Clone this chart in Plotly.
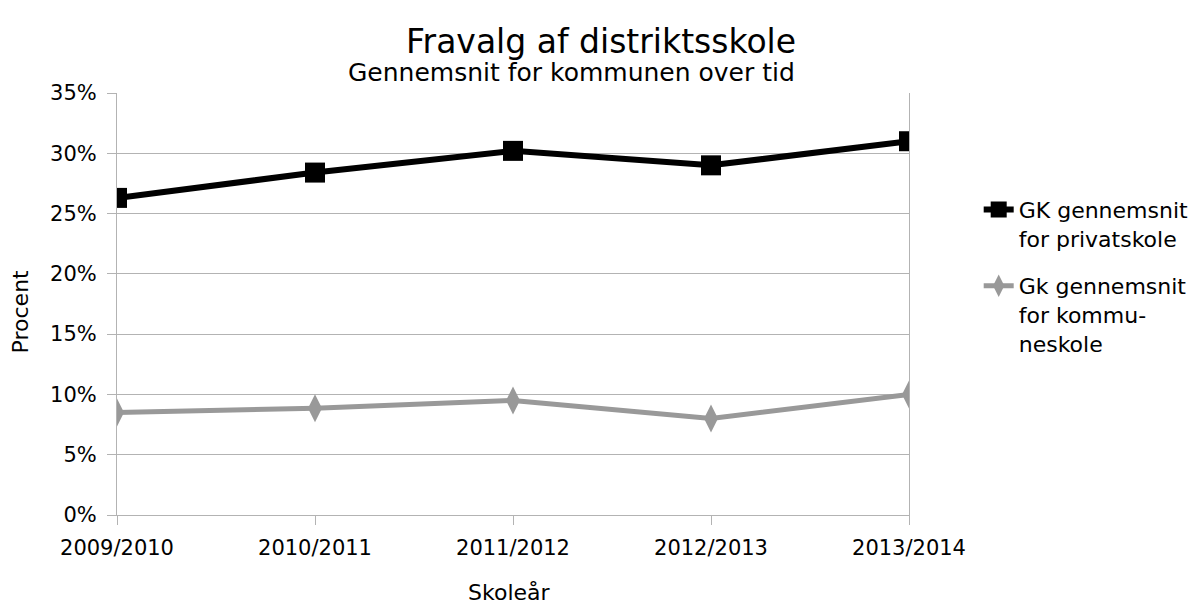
import plotly.graph_objects as go

years = ["2009/2010", "2010/2011", "2011/2012", "2012/2013", "2013/2014"]
privat = [0.263, 0.284, 0.302, 0.290, 0.310]
kommune = [0.085, 0.0885, 0.095, 0.080, 0.100]
yticks = [0, 0.05, 0.10, 0.15, 0.20, 0.25, 0.30, 0.35]

FONT = "DejaVu Sans"

fig = go.Figure()
fig.add_trace(go.Scatter(
    x=years, y=privat, mode="lines+markers",
    name="GK gennemsnit<br>for privatskole",
    line=dict(color="#000000", width=6),
    marker=dict(symbol="square", size=20, color="#000000"),
    legendgroup="a",
))
fig.add_trace(go.Scatter(
    x=years, y=kommune, mode="lines+markers",
    name="Gk gennemsnit<br>for kommu-<br>neskole",
    line=dict(color="#999999", width=5),
    marker=dict(symbol="diamond-tall", size=20, color="#999999"),
    legendgroup="b",
))

annotations = [
    dict(text="Fravalg af distriktsskole", x=0.611, y=1.123, xref="paper", yref="paper",
         xanchor="center", yanchor="middle", showarrow=False,
         font=dict(family=FONT, size=33, color="#000000")),
    dict(text="Gennemsnit for kommunen over tid", x=0.574, y=1.048, xref="paper", yref="paper",
         xanchor="center", yanchor="middle", showarrow=False,
         font=dict(family=FONT, size=25, color="#000000")),
    dict(text="Skoleår", x=0.496, y=-0.183, xref="paper", yref="paper",
         xanchor="center", yanchor="middle", showarrow=False,
         font=dict(family=FONT, size=22, color="#000000")),
    dict(text="Procent", x=-0.122, y=0.481, xref="paper", yref="paper", textangle=-90,
         xanchor="center", yanchor="middle", showarrow=False,
         font=dict(family=FONT, size=22, color="#000000")),
]

fig.update_layout(
    width=1198, height=607,
    margin=dict(l=109, r=294, t=85, b=100),
    paper_bgcolor="white", plot_bgcolor="white",
    font=dict(family=FONT, size=20, color="#000000"),
    annotations=annotations,
    showlegend=True,
    legend=dict(
        x=1.088, xanchor="left", y=0.773, yanchor="top",
        font=dict(family=FONT, size=22, color="#000000"),
        valign="top", tracegroupgap=16, traceorder="grouped",
        bgcolor="rgba(0,0,0,0)",
    ),
    xaxis=dict(
        type="category", range=[0, 4],
        showgrid=False, showline=True, linecolor="#b3b3b3", linewidth=1,
        ticks="outside", ticklen=9, tickcolor="#b3b3b3",
        tickfont=dict(family=FONT, size=21), ticklabelstandoff=5,
        zeroline=False,
    ),
    yaxis=dict(
        range=[0, 0.35], tickvals=yticks, tickformat=".0%",
        showgrid=True, gridcolor="#b3b3b3", gridwidth=1,
        showline=True, linecolor="#b3b3b3", linewidth=1, mirror=True,
        ticks="outside", ticklen=9, tickcolor="#b3b3b3",
        tickfont=dict(family=FONT, size=21), ticklabelstandoff=6,
        zeroline=False,
    ),
)

fig.write_html("out.html")
